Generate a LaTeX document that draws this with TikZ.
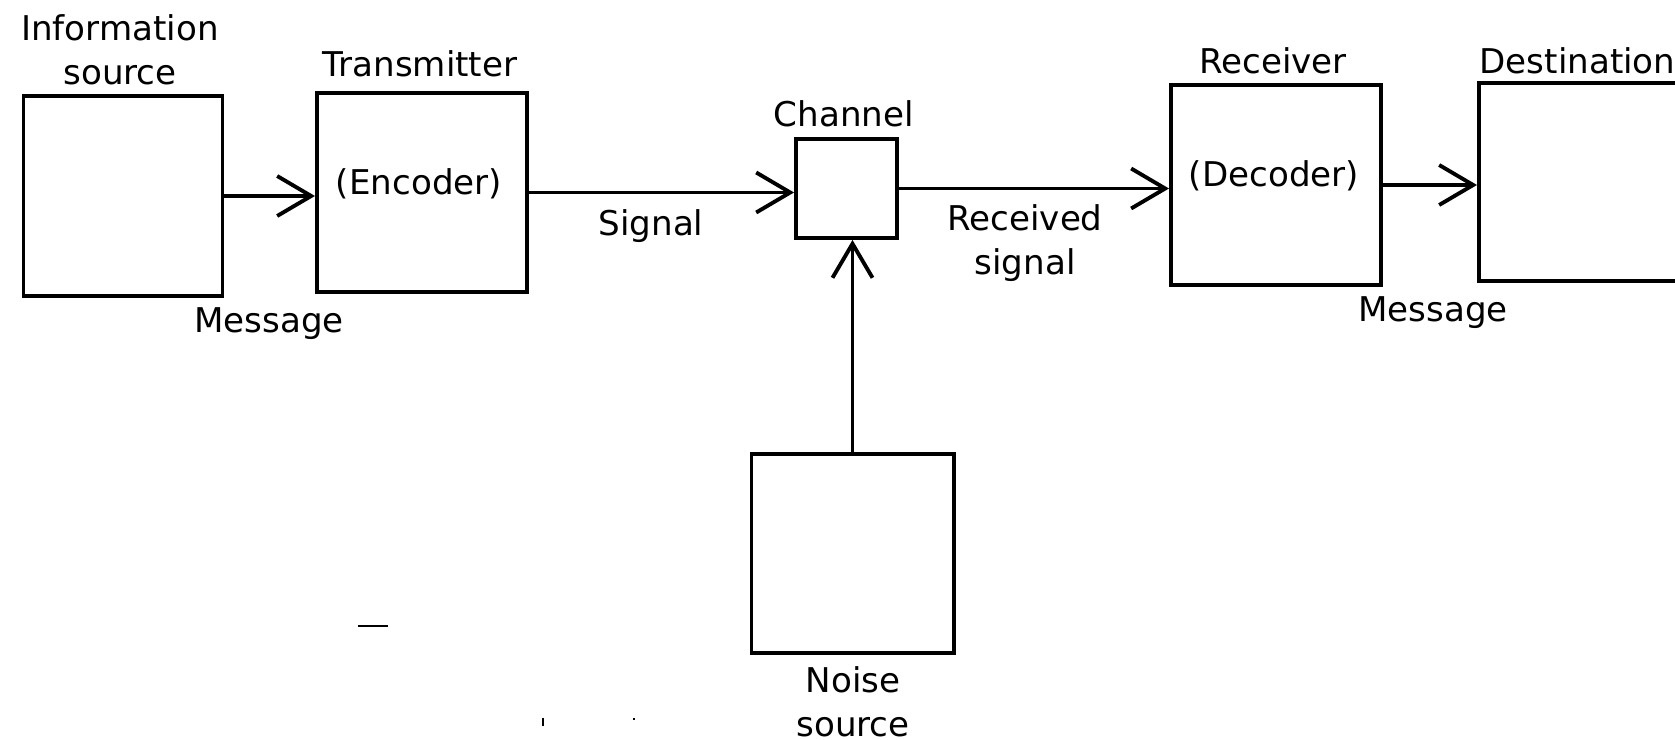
\documentclass[tikz,border=0pt]{standalone}
\usepackage{fontspec}
\setmainfont{DejaVu Sans}
\usetikzlibrary{arrows.meta}

\begin{document}
\begin{tikzpicture}[x=0.01cm, y=-0.01cm,
  font=\fontsize{9.7}{12.5}\selectfont,
  blk/.style={draw, line width=1.1pt, inner sep=0pt},
  lbl/.style={inner sep=0pt, align=center},
  sig/.style={line width=1.1pt, -{Straight Barb[length=3.4mm, width=4mm]}}]
%frame
\fill[white] (0,0) rectangle (1675,740);
\useasboundingbox (0,0) rectangle (1675,740);
\clip (0,0) rectangle (1675,740);

%blocks
\node[blk, minimum width=1.99cm, minimum height=2.00cm] (src) at (123,196) {};
\node[blk, minimum width=2.10cm, minimum height=1.99cm] (trans) at (422,192.5) {};
\node[blk, minimum width=1.01cm, minimum height=0.99cm] (chan) at (846.5,188.5) {};
\node[blk, minimum width=2.10cm, minimum height=2.00cm] (recv) at (1276,185) {};
\node[blk, minimum width=2.41cm, minimum height=1.98cm] (dest) at (1599.5,182) {};
\node[blk, minimum width=2.02cm, minimum height=1.99cm] (noise) at (852.5,553.5) {};

%labels
\node[lbl] (srclbl) at (120,50) {Information\\source};
\node[lbl] (translbl) at (420,64) {Transmitter};
\node[lbl] (enclbl) at (419,184) {(Encoder)};
\node[lbl] (msgin) at (269,324) {Message};
\node[lbl] (siglbl) at (651,226) {Signal};
\node[lbl] (chanlbl) at (844,114) {Channel};
\node[lbl] (rsiglbl) at (1025,243) {Received\\signal};
\node[lbl] (recvlbl) at (1273,61) {Receiver};
\node[lbl] (declbl) at (1274,176) {(Decoder)};
\node[lbl, anchor=west] (destlbl) at (1479,61) {Destination};
\node[lbl] (msgout) at (1433,313) {Message};
\node[lbl] (noiselbl) at (853,702) {Noise\\source};

%connectors
\draw[sig] (src.east) -- (src.east -| trans.west);
\draw[sig] (trans.east) -- (trans.east -| chan.west);
\draw[sig] (chan.east) -- (chan.east -| recv.west);
\draw[sig] (recv.east) -- (recv.east -| dest.west);
\draw[sig] (noise.north) -- (noise.north |- chan.south);

%specks
\draw[line width=0.6pt] (358,626) -- (388,626);
\fill (542,718) rectangle (544,726);
\fill (633,718) rectangle (635,720);
\end{tikzpicture}
\end{document}
